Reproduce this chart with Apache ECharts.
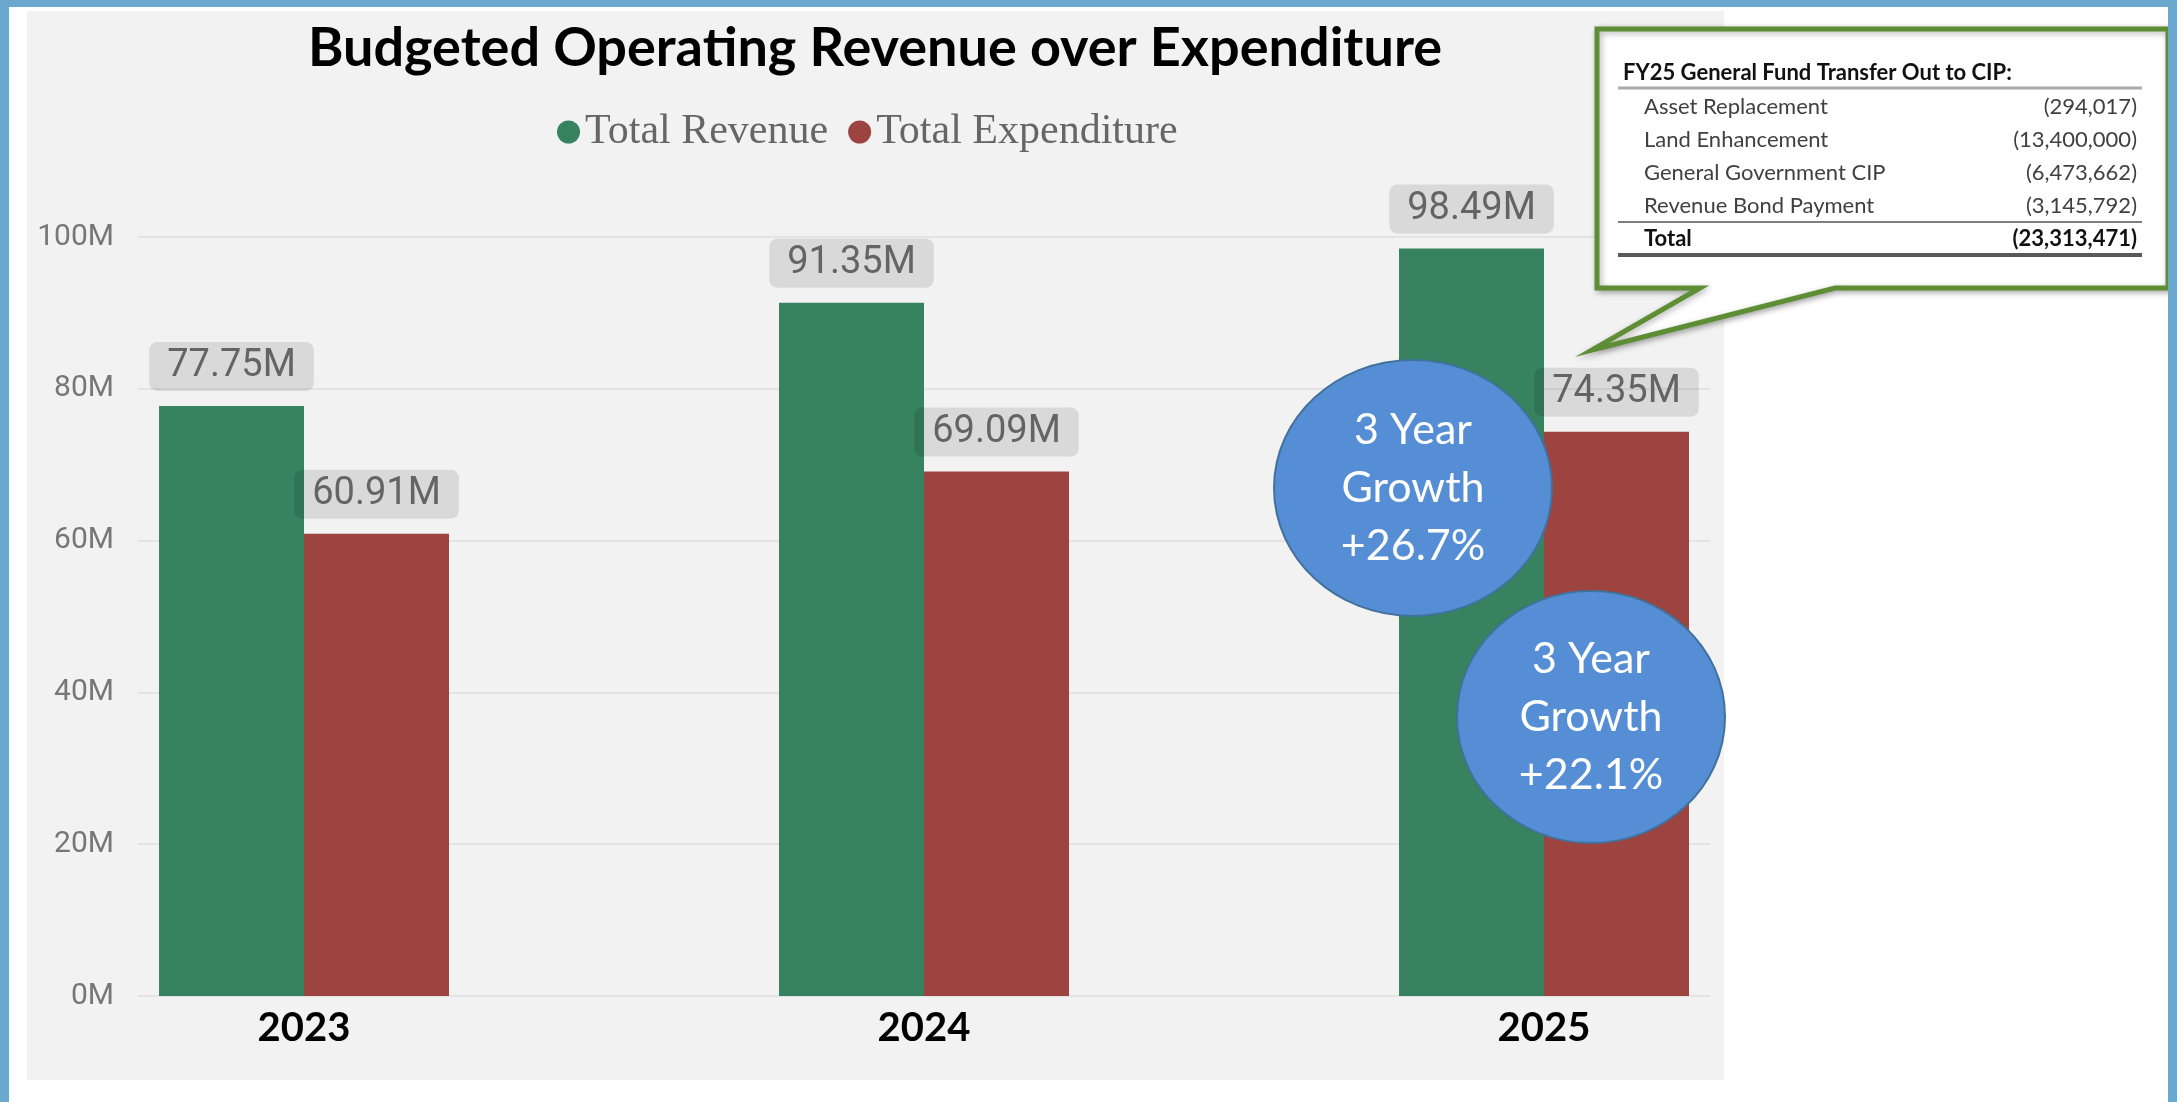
<!DOCTYPE html>
<html>
<head>
<meta charset="utf-8">
<title>Budgeted Operating Revenue over Expenditure</title>
<script src="https://cdn.jsdelivr.net/npm/echarts@6.0.0/dist/echarts.min.js"></script>
<style>
  html, body { margin: 0; padding: 0; background: #ffffff; }
  #chart { width: 2177px; height: 1102px; }
</style>
</head>
<body>
<div id="chart"></div>
<script>
// chart data (values in millions)
const years = ['2023', '2024', '2025'];
const totalRevenue = [77.75, 91.35, 98.49];
const totalExpenditure = [60.91, 69.09, 74.35];
const yTicks = [0, 20, 40, 60, 80, 100];

// callout table
const transferTitle = 'FY25 General Fund Transfer Out to CIP:';
const transferItems = ['Asset Replacement', 'Land Enhancement', 'General Government CIP', 'Revenue Bond Payment'];
const transferAmounts = [294017, 13400000, 6473662, 3145792];

const GREEN = '#37825F';
const RED = '#9D4340';

function paren(n) {
    return '(' + n.toLocaleString('en-US') + ')';
}
function growth(arr) {
    return '+' + ((arr[arr.length - 1] / arr[0] - 1) * 100).toFixed(1) + '%';
}

const chart = echarts.init(document.getElementById('chart'));

// callout box + table
const calloutText = [];
calloutText.push({
    type: 'text', z: 60,
    style: { text: transferTitle, x: 1623, y: 73, verticalAlign: 'middle',
        fontFamily: 'Lato', fontWeight: 'bold', fontSize: 22, fill: '#111' }
});
const rowY = [107, 140, 173, 206];
transferItems.forEach(function (name, i) {
    calloutText.push({
        type: 'text', z: 60,
        style: { text: name, x: 1644, y: rowY[i], verticalAlign: 'middle',
            fontFamily: 'Lato', fontSize: 22, fill: '#404040' }
    });
    calloutText.push({
        type: 'text', z: 60,
        style: { text: paren(transferAmounts[i]), x: 2137, y: rowY[i], align: 'right', verticalAlign: 'middle',
            fontFamily: 'Lato', fontSize: 22, fill: '#404040' }
    });
});
const total = transferAmounts.reduce(function (a, b) { return a + b; }, 0);
calloutText.push({
    type: 'text', z: 60,
    style: { text: 'Total', x: 1644, y: 239, verticalAlign: 'middle',
        fontFamily: 'Lato', fontWeight: 'bold', fontSize: 22, fill: '#111' }
});
calloutText.push({
    type: 'text', z: 60,
    style: { text: paren(total), x: 2137, y: 239, align: 'right', verticalAlign: 'middle',
        fontFamily: 'Lato', fontWeight: 'bold', fontSize: 22, fill: '#111' }
});

function bubble(cx, cy, rx, ry, text) {
    return [
        {
            type: 'ellipse', z: 50,
            shape: { cx: cx, cy: cy, rx: rx, ry: ry },
            style: { fill: '#558ED5', stroke: '#41719C', lineWidth: 2 }
        },
        {
            type: 'text', z: 51,
            style: { text: text, x: cx, y: cy, align: 'center', verticalAlign: 'middle',
                fontFamily: 'Lato', fontSize: 43, lineHeight: 58, fill: '#ffffff' }
        }
    ];
}

const option = {
    backgroundColor: '#ffffff',
    animation: false,
    title: {
        text: 'Budgeted Operating Revenue over Expenditure',
        left: 875,
        top: 22,
        padding: 0,
        textAlign: 'center',
        textStyle: { fontFamily: 'Lato', fontWeight: 'bold', fontSize: 54, color: '#000' }
    },
    legend: {
        data: ['Total Revenue', 'Total Expenditure'],
        left: 552,
        top: 106,
        icon: 'circle',
        itemWidth: 23,
        itemHeight: 23,
        itemGap: 20,
        textStyle: { fontFamily: 'Liberation Serif', fontSize: 42, color: '#666666' }
    },
    grid: [
        { left: 138, right: 467, top: 237, bottom: 106 },  // gridlines
        { left: 304, right: 633, top: 237, bottom: 106 }   // bars
    ],
    xAxis: [
        { gridIndex: 0, type: 'value', show: false },
        {
            gridIndex: 1,
            type: 'category',
            data: years,
            boundaryGap: false,
            axisLine: { show: false },
            axisTick: { show: false },
            axisLabel: { margin: 12, fontFamily: 'Lato', fontWeight: 'bold', fontSize: 40, color: '#000' }
        }
    ],
    yAxis: [
        {
            gridIndex: 0,
            type: 'value',
            min: yTicks[0],
            max: yTicks[yTicks.length - 1],
            interval: 20,
            axisLine: { show: false },
            axisTick: { show: false },
            axisLabel: { formatter: '{value}M', margin: 24, fontFamily: 'Roboto', fontSize: 30, color: '#777777' },
            splitLine: { lineStyle: { color: '#e3e3e3', width: 2 } }
        },
        {
            gridIndex: 1,
            type: 'value',
            min: yTicks[0],
            max: yTicks[yTicks.length - 1],
            interval: 20,
            show: false,
            splitLine: { show: false }
        }
    ],
    series: [
        {
            name: 'Total Revenue',
            type: 'bar',
            xAxisIndex: 1,
            yAxisIndex: 1,
            data: totalRevenue,
            barWidth: 145,
            barGap: '0%',
            clip: false,
            itemStyle: { color: GREEN },
            label: {
                show: true, position: 'top', distance: 15,
                formatter: function (p) { return p.value.toFixed(2) + 'M'; },
                fontFamily: 'Roboto', fontSize: 38, lineHeight: 38, color: '#646464',
                backgroundColor: 'rgba(0,0,0,0.1)', borderRadius: 8, padding: [6, 18, 5, 18]
            }
        },
        {
            name: 'Total Expenditure',
            type: 'bar',
            xAxisIndex: 1,
            yAxisIndex: 1,
            data: totalExpenditure,
            barWidth: 145,
            barGap: '0%',
            clip: false,
            itemStyle: { color: RED },
            label: {
                show: true, position: 'top', distance: 15,
                formatter: function (p) { return p.value.toFixed(2) + 'M'; },
                fontFamily: 'Roboto', fontSize: 38, lineHeight: 38, color: '#646464',
                backgroundColor: 'rgba(0,0,0,0.1)', borderRadius: 8, padding: [6, 18, 5, 18]
            }
        }
    ],
    graphic: [
        // grey report panel
        { type: 'rect', z: -10, shape: { x: 27, y: 11, width: 1697, height: 1069 }, style: { fill: '#f2f2f2' } },
        // callout
        {
            type: 'polygon', z: 55,
            shape: { points: [[1597, 29], [2168, 29], [2168, 288], [1835, 288], [1592, 350], [1700, 288], [1597, 288]] },
            style: { fill: '#ffffff', stroke: '#5E8E34', lineWidth: 5, lineJoin: 'miter',
                shadowBlur: 6, shadowColor: 'rgba(0,0,0,0.3)', shadowOffsetX: 2, shadowOffsetY: 2 }
        },
        { type: 'line', z: 58, shape: { x1: 1618, y1: 88, x2: 2142, y2: 88 }, style: { stroke: '#aaaaaa', lineWidth: 3 } },
        { type: 'line', z: 58, shape: { x1: 1618, y1: 222, x2: 2142, y2: 222 }, style: { stroke: '#808080', lineWidth: 2 } },
        { type: 'line', z: 58, shape: { x1: 1618, y1: 255, x2: 2142, y2: 255 }, style: { stroke: '#5a5a5a', lineWidth: 4 } }
    ]
    .concat(calloutText)
    .concat(bubble(1413, 488, 139, 128, '3 Year\nGrowth\n' + growth(totalRevenue)))
    .concat(bubble(1591, 717, 134, 126, '3 Year\nGrowth\n' + growth(totalExpenditure)))
    .concat([
        // blue page frame
        { type: 'rect', z: 100, shape: { x: 0, y: 0, width: 9, height: 1102 }, style: { fill: '#6BA8CD' } },
        { type: 'rect', z: 100, shape: { x: 0, y: 0, width: 2177, height: 7 }, style: { fill: '#6BA8CD' } },
        { type: 'rect', z: 100, shape: { x: 2168, y: 0, width: 9, height: 1102 }, style: { fill: '#6BA8CD' } }
    ])
};

chart.setOption(option);
</script>
</body>
</html>
